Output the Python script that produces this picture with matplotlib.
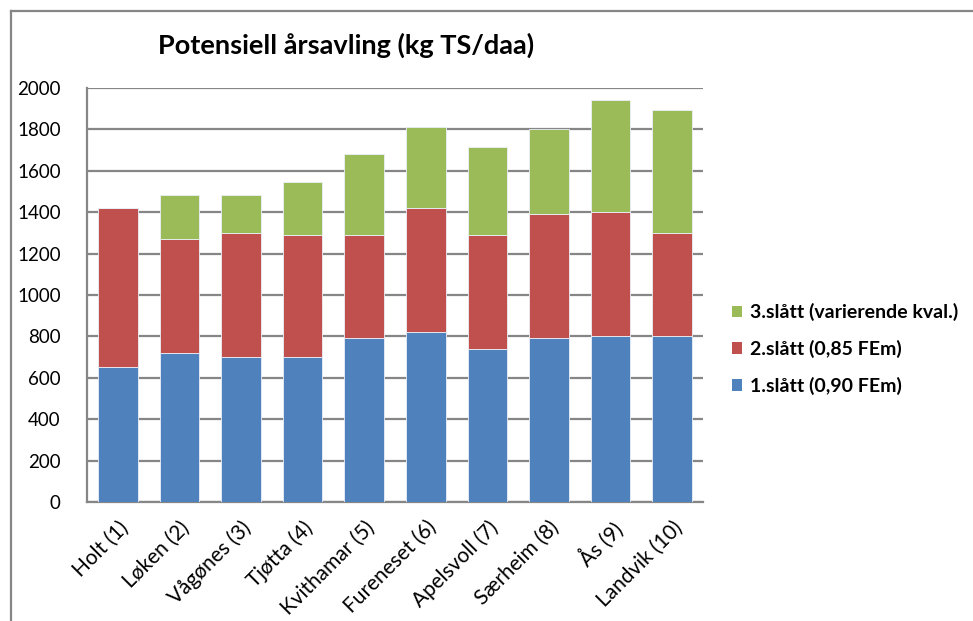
import matplotlib
matplotlib.use("Agg")
import matplotlib.pyplot as plt
from matplotlib.lines import Line2D
from matplotlib.patches import Patch
import numpy as np

plt.rcParams['font.family'] = ['Lato', 'DejaVu Sans']

sites = ["Holt (1)", "Løken (2)", "Vågønes (3)", "Tjøtta (4)", "Kvithamar (5)",
         "Fureneset (6)", "Apelsvoll (7)", "Særheim (8)", "Ås (9)", "Landvik (10)"]
cut1 = [650, 720, 700, 700, 790, 820, 740, 790, 800, 800]
cut2 = [770, 550, 600, 590, 500, 600, 550, 600, 600, 500]
cut3 = [0, 215, 185, 255, 390, 390, 425, 410, 540, 595]
series_names = ["1.slått (0,90 FEm)", "2.slått (0,85 FEm)", "3.slått (varierende kval.)"]
colors = ["#4F81BD", "#C0504D", "#9BBB59"]
title = "Potensiell årsavling (kg TS/daa)"
yticks = [0, 200, 400, 600, 800, 1000, 1200, 1400, 1600, 1800, 2000]

fig = plt.figure(figsize=(9.73, 6.21), dpi=100)
ax = fig.add_axes([87 / 973, 119 / 621, 616 / 973, 414 / 621])

x = np.arange(len(sites))
bottom = np.zeros(len(sites))
for vals, col in zip([cut1, cut2, cut3], colors):
    ax.bar(x, vals, width=0.64, bottom=bottom, color=col,
           edgecolor="#EAF0F8", linewidth=0.6, zorder=3)
    bottom += np.array(vals)

ax.set_xlim(-0.5, len(sites) - 0.5)
ax.set_ylim(0, 2000)
ax.set_yticks(yticks)
ax.set_yticklabels([str(v) for v in yticks], fontsize=13.5)
ax.yaxis.grid(True, color="#868686", linewidth=1.6, zorder=0)
ax.tick_params(axis='y', length=0, pad=19)
ax.tick_params(axis='x', length=0, pad=11)
ax.set_xticks(x)
ax.set_xticklabels(sites, rotation=45, ha='right', rotation_mode='anchor', fontsize=15)

for side in ["top", "right"]:
    ax.spines[side].set_visible(False)
for side in ["left", "bottom"]:
    ax.spines[side].set_color("#868686")
    ax.spines[side].set_linewidth(1.6)

fig.text(0.356, 0.927, title, ha='center', va='center', fontsize=19.5, fontweight='bold')

handles = [Patch(facecolor=c) for c in colors[::-1]]
fig.legend(handles, series_names[::-1], loc='center left', bbox_to_anchor=(0.734, 0.438),
           frameon=False, prop={'weight': 'bold', 'size': 14},
           handlelength=0.55, handleheight=0.55, handletextpad=0.4, labelspacing=0.95)

# outer chart border (top and left edges)
fig.add_artist(Line2D([11 / 973, 1.0], [1 - 11 / 621, 1 - 11 / 621], color="#868686", linewidth=1.6))
fig.add_artist(Line2D([11 / 973, 11 / 973], [0.0, 1 - 11 / 621], color="#868686", linewidth=1.6))

fig.savefig("out.png", dpi=100, facecolor="white")
